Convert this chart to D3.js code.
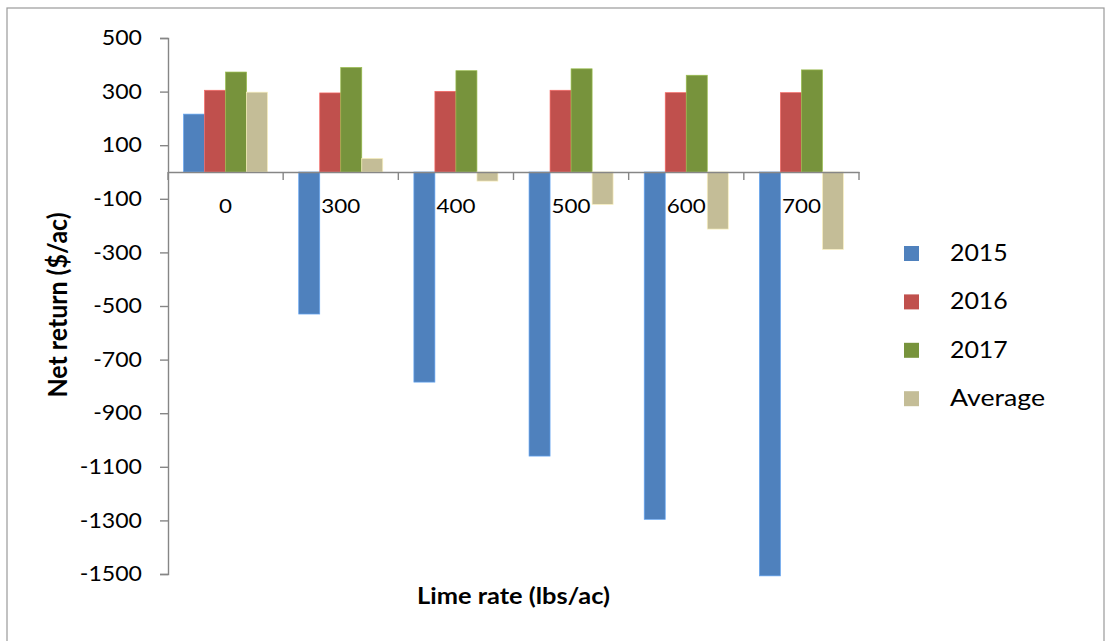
<!DOCTYPE html>
<html><head><meta charset="utf-8">
<script src="https://cdn.jsdelivr.net/npm/d3@7"></script>
<style>body{margin:0;background:#fff}svg{display:block}text{font-family:Lato,"Open Sans",sans-serif}</style>
</head><body>
<script>
const categories = ["0","300","400","500","600","700"];
const seriesNames = ["2015","2016","2017","Average"];
const v2015 = [216,-530,-784,-1060,-1296,-1507];
const v2016 = [305,295,301,305,296,296];
const v2017 = [373,390,378,385,361,381];
const vAvg = [298,51,-34,-121,-213,-289];
const yTicks = [500,300,100,-100,-300,-500,-700,-900,-1100,-1300,-1500];
const colors = ["#4F81BD","#C0504D","#77933C","#C4BD97"];
const series = [v2015,v2016,v2017,vAvg];

const W=1110,H=641;
const svg=d3.select("body").append("svg").attr("width",W).attr("height",H);
svg.append("rect").attr("x",7).attr("y",8).attr("width",1097).attr("height",640).attr("fill","#fff").attr("stroke","#9a9a9a").attr("stroke-width",1.2);

const stretch=(sel,f)=>sel.each(function(){const n=this.getComputedTextLength();d3.select(this).attr("textLength",n*f).attr("lengthAdjust","spacingAndGlyphs");});
const fitTo=(sel,w)=>sel.attr("textLength",w).attr("lengthAdjust","spacingAndGlyphs");

const pLeft=168,pRight=859,pTop=38,pBottom=574;
const y=d3.scaleLinear().domain([-1500,500]).range([pBottom,pTop]);
const x=d3.scaleBand().domain(categories).range([pLeft,pRight]).paddingInner(0).paddingOuter(0);
const xs=d3.scaleBand().domain(seriesNames).range([0,x.bandwidth()]).paddingInner(0).paddingOuter(0.74);

const g=svg.append("g");
seriesNames.forEach((s,si)=>{
  g.selectAll(null).data(series[si]).enter().append("rect")
   .attr("x",(d,i)=>x(categories[i])+xs(s))
   .attr("width",xs.bandwidth())
   .attr("y",d=>y(Math.max(0,d)))
   .attr("height",d=>Math.abs(y(d)-y(0)))
   .attr("fill",colors[si])
   .attr("stroke",d3.color(colors[si]).brighter(0.7)).attr("stroke-width",0.7);
});

// y axis
const ya=svg.append("g").attr("transform",`translate(${pLeft},0)`)
 .call(d3.axisLeft(y).tickValues(yTicks).tickSize(8).tickPadding(18).tickFormat(d=>String(d)));
ya.select(".domain").attr("stroke","#868686").attr("stroke-width",1.4);
ya.selectAll(".tick line").attr("stroke","#868686").attr("stroke-width",1.4);
ya.selectAll(".tick text").attr("font-size",21).attr("fill","#000").attr("font-family","Lato,'Open Sans',sans-serif");
stretch(ya.selectAll(".tick text"),1.1);

// x axis at zero
const xa=svg.append("g").attr("transform",`translate(0,${y(0)})`)
 .call(d3.axisBottom(x).tickSize(0).tickPadding(27));
xa.select(".domain").attr("stroke","#868686").attr("stroke-width",1.4);
xa.selectAll(".tick text").attr("font-size",20).attr("fill","#000").attr("font-family","Lato,'Open Sans',sans-serif");
stretch(xa.selectAll(".tick text"),1.12);
const edges=categories.map(c=>x(c)).concat([pRight]);
svg.append("g").selectAll("line").data(edges).enter().append("line")
 .attr("x1",d=>d).attr("x2",d=>d).attr("y1",y(0)).attr("y2",y(0)+8)
 .attr("stroke","#868686").attr("stroke-width",1.4);

// titles
fitTo(svg.append("text").attr("x",417).attr("y",603.5)
 .attr("font-size",23).attr("font-weight","bold").text("Lime rate (lbs/ac)"),193);
fitTo(svg.append("text").attr("transform","translate(67,305) scale(1.15,1) rotate(-90)").attr("text-anchor","middle")
 .attr("font-size",23).attr("font-weight","bold").text("Net return ($/ac)"),185);

// legend
const lg=svg.append("g");
const legW=[57.7,57.7,57.7,95];
seriesNames.forEach((s,i)=>{
  const yy=246+i*48.4;
  lg.append("rect").attr("x",904).attr("y",yy).attr("width",15).attr("height",15).attr("fill",colors[i]);
  fitTo(lg.append("text").attr("x",950).attr("y",yy+14.7).attr("font-size",24).text(s),legW[i]);
});
</script>
</body></html>
